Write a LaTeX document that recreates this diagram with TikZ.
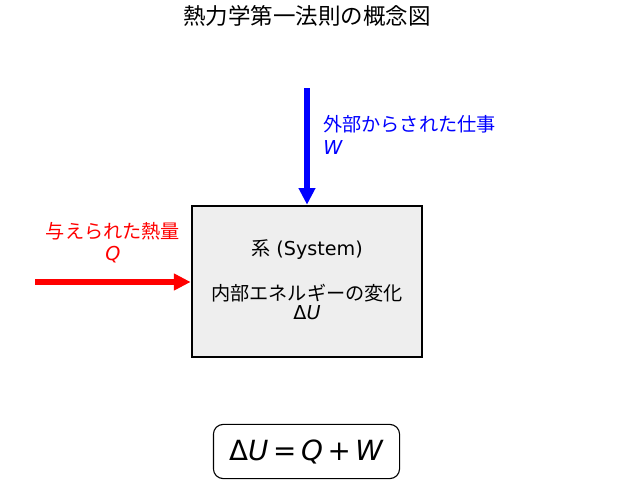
\documentclass[tikz,border=0pt]{standalone}
\usepackage{fontspec}
\setmainfont{DejaVu Sans}
\newfontfamily\cjk{Noto Sans CJK JP}
\usetikzlibrary{arrows.meta}
\definecolor{boxgray}{RGB}{238,238,238}
\tikzset{%
  >={Triangle[width=11.5pt,length=12pt]},
  % Specifications for style of nodes:
       sysbox/.style = {rectangle, draw=black, line width=1.6pt, fill=boxgray,
                        minimum width=166pt, minimum height=109pt},
       eqbox/.style  = {rectangle, rounded corners=7pt, draw=black, line width=0.8pt,
                        minimum width=134pt, minimum height=39pt, font=\fontsize{20}{24}\selectfont},
       label/.style  = {font=\fontsize{13.8}{16}\selectfont, inner sep=0pt},
       flow/.style   = {->, line width=4.5pt},
}

\begin{document}
\begin{tikzpicture}[x=0.72pt, y=-0.72pt]
  \useasboundingbox (0,0) rectangle (617,495);
  % Specification of nodes (position, etc.)

  \node (title)   [label, font=\fontsize{16.2}{18}\selectfont] at (307,16) {\cjk 熱力学第一法則の概念図};
  \node (sys)     [sysbox] at (307,281.5) {};
  \node (sysname) [label] at (307,250) {\cjk 系\normalfont\ (System)};
  \node (energy)  [label] at (307,293) {\cjk 内部エネルギーの変化};
  \node (du)      [label] at (307,313) {Δ\textit{U}};
  \node (work)    [label, blue, align=left, anchor=west] at (323,135) {\cjk 外部からされた仕事\\[0pt]\textit{W}};
  \node (heat)    [label, red, align=center] at (113,243) {\cjk 与えられた熱量\\[0pt]\textit{Q}};
  \node (eq)      [eqbox] at (306.5,451.5) {Δ\textit{U}\,=\,\textit{Q}\,+\,\textit{W}};

  \coordinate (worktop) at (307,88);
  \coordinate (heatend) at (35,282);

  \draw[flow, blue]  (worktop) -- (sys.north);
  \draw[flow, red]   (heatend) -- (sys.west |- heatend);

\end{tikzpicture}
\end{document}
